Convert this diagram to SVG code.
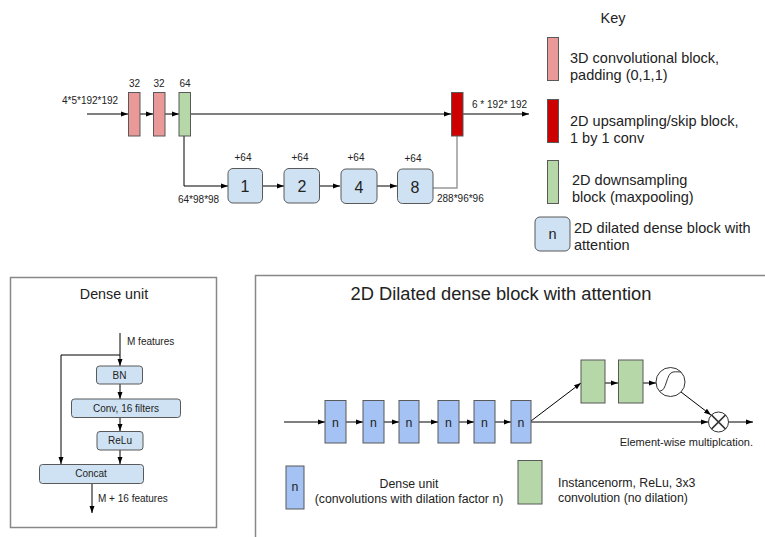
<svg xmlns="http://www.w3.org/2000/svg" width="765" height="537" viewBox="0 0 765 537">
  <defs>
    <marker id="arr" markerWidth="8" markerHeight="8" refX="7" refY="4" orient="auto" markerUnits="userSpaceOnUse">
      <path d="M0,1.5 L7,4 L0,6.5 Z" fill="#000"/>
    </marker>
    <style>
      text { font-family: "Liberation Sans", Arial, sans-serif; fill: #222; }
      .ln { stroke: #000; stroke-width: 1; fill: none; }
      .gl { stroke: #999; stroke-width: 1.5; fill: none; }
      .box { stroke: #595959; stroke-width: 1; }
      .pink { fill: #ea9999; }
      .red { fill: #cc0000; }
      .green { fill: #b6d7a8; }
      .lblue { fill: #cfe2f3; }
      .blue { fill: #a4c2f4; }
      .s10 { font-size: 10px; }
      .s11 { font-size: 11px; }
      .s12 { font-size: 12.3px; }
      .key { font-size: 14.5px; }
      .num { font-size: 16px; }
      .mid { text-anchor: middle; }
      .frame { fill: none; stroke: #888; stroke-width: 1.5; }
    </style>
  </defs>
  <rect width="765" height="537" fill="#fff"/>

  <!-- ===== Top network ===== -->
  <g id="connectors-top">
    <line class="ln" x1="87" y1="114" x2="128" y2="114" marker-end="url(#arr)"/>
    <line class="ln" x1="140" y1="114" x2="153" y2="114" marker-end="url(#arr)"/>
    <line class="ln" x1="165" y1="114" x2="179" y2="114" marker-end="url(#arr)"/>
    <line class="ln" x1="190" y1="114" x2="451" y2="114" marker-end="url(#arr)"/>
    <line class="ln" x1="463" y1="114" x2="529" y2="114" marker-end="url(#arr)"/>
    <polyline class="ln" points="184,136 184,186 228,186" marker-end="url(#arr)"/>
    <line class="ln" x1="262" y1="186" x2="284" y2="186" marker-end="url(#arr)"/>
    <line class="ln" x1="320" y1="186" x2="340" y2="186" marker-end="url(#arr)"/>
    <line class="ln" x1="377" y1="186" x2="397" y2="186" marker-end="url(#arr)"/>
    <polyline class="gl" points="433,188 457,188 457,136"/>
  </g>

  <text class="s10" x="62" y="104">4*5*192*192</text>
  <text class="s10" x="472" y="108">6 * 192* 192</text>
  <text class="s10" x="178" y="203">64*98*98</text>
  <text class="s10" x="437" y="202">288*96*96</text>

  <g id="conv1">
    <rect class="box pink" x="128.5" y="92.5" width="11.5" height="43.5"/>
    <text class="s10 mid" x="134.5" y="87">32</text>
  </g>
  <g id="conv2">
    <rect class="box pink" x="153.5" y="92.5" width="11.5" height="43.5"/>
    <text class="s10 mid" x="159" y="87">32</text>
  </g>
  <g id="down1">
    <rect class="box green" x="179" y="92.5" width="11.5" height="43.5"/>
    <text class="s10 mid" x="185" y="87">64</text>
  </g>
  <g id="up1">
    <rect class="box red" x="451.5" y="92.5" width="11.5" height="43.5"/>
  </g>
  <g id="dd1">
    <rect class="box lblue" x="228" y="168.5" width="34.5" height="34.5" rx="5"/>
    <text class="num mid" x="245" y="192">1</text>
    <text class="s10 mid" x="243" y="161">+64</text>
  </g>
  <g id="dd2">
    <rect class="box lblue" x="284" y="168.5" width="35.5" height="34.5" rx="5"/>
    <text class="num mid" x="302" y="192">2</text>
    <text class="s10 mid" x="300" y="161">+64</text>
  </g>
  <g id="dd4">
    <rect class="box lblue" x="341" y="169" width="36" height="34.5" rx="5"/>
    <text class="num mid" x="359" y="192.5">4</text>
    <text class="s10 mid" x="356" y="161">+64</text>
  </g>
  <g id="dd8">
    <rect class="box lblue" x="397.5" y="169" width="35.5" height="34.5" rx="5"/>
    <text class="num mid" x="415" y="192.5">8</text>
    <text class="s10 mid" x="413" y="162">+64</text>
  </g>

  <!-- ===== Key ===== -->
  <g id="key">
    <text class="key mid" x="613" y="23">Key</text>
    <rect class="box pink" x="547.5" y="37.5" width="11" height="43"/>
    <text class="key" x="570" y="63">3D convolutional block,</text>
    <text class="key" x="570" y="80">padding (0,1,1)</text>
    <rect class="box red" x="547.5" y="99.5" width="11" height="43"/>
    <text class="key" x="570" y="126">2D upsampling/skip block,</text>
    <text class="key" x="570" y="143">1 by 1 conv</text>
    <rect class="box green" x="547.5" y="160.5" width="11" height="43"/>
    <text class="key" x="572" y="185">2D downsampling</text>
    <text class="key" x="572" y="202">block (maxpooling)</text>
    <rect class="box lblue" x="535" y="217" width="35" height="34" rx="5"/>
    <text class="key mid" x="552.5" y="239">n</text>
    <text class="key" x="574" y="233">2D dilated dense block with</text>
    <text class="key" x="574" y="250">attention</text>
  </g>

  <!-- ===== Dense unit panel ===== -->
  <rect class="frame" x="10.5" y="277.5" width="206" height="250"/>
  <text class="mid" x="114" y="299" style="font-size:14.3px">Dense unit</text>
  <g id="connectors-dense">
    <line class="ln" x1="120" y1="333" x2="120" y2="366" marker-end="url(#arr)"/>
    <polyline class="ln" points="120,355 61,355 61,464" marker-end="url(#arr)"/>
    <line class="ln" x1="120" y1="384" x2="120" y2="399" marker-end="url(#arr)"/>
    <line class="ln" x1="120" y1="418" x2="120" y2="431" marker-end="url(#arr)"/>
    <line class="ln" x1="120" y1="450" x2="120" y2="464" marker-end="url(#arr)"/>
    <line class="ln" x1="92" y1="483" x2="92" y2="513" marker-end="url(#arr)"/>
  </g>
  <text class="s10" x="127" y="345">M features</text>
  <text class="s10" x="98" y="502">M + 16 features</text>
  <g id="bn">
    <rect class="box lblue" x="96.5" y="366" width="46" height="18" rx="3"/>
    <text class="s10 mid" x="119.5" y="379">BN</text>
  </g>
  <g id="conv16">
    <rect class="box lblue" x="71.5" y="399" width="109" height="18.5" rx="3"/>
    <text class="s10 mid" x="126" y="412">Conv, 16 filters</text>
  </g>
  <g id="relu">
    <rect class="box lblue" x="97" y="431.5" width="46" height="18.5" rx="3"/>
    <text class="s10 mid" x="120" y="444">ReLu</text>
  </g>
  <g id="concat">
    <rect class="box lblue" x="39.5" y="464.5" width="104" height="19" rx="3"/>
    <text class="s10 mid" x="91" y="477">Concat</text>
  </g>

  <!-- ===== Dilated dense block panel ===== -->
  <path class="frame" d="M255.5,537 V275.5 H766"/>
  <text class="mid" x="501" y="300" style="font-size:18.3px">2D Dilated dense block with attention</text>
  <g id="connectors-dilated">
    <line class="ln" x1="284" y1="422" x2="325" y2="422" marker-end="url(#arr)"/>
    <line class="ln" x1="346" y1="422" x2="363" y2="422" marker-end="url(#arr)"/>
    <line class="ln" x1="384" y1="422" x2="399" y2="422" marker-end="url(#arr)"/>
    <line class="ln" x1="419" y1="422" x2="438" y2="422" marker-end="url(#arr)"/>
    <line class="ln" x1="459" y1="422" x2="474" y2="422" marker-end="url(#arr)"/>
    <line class="ln" x1="495" y1="422" x2="511" y2="422" marker-end="url(#arr)"/>
    <line class="ln" x1="531" y1="422" x2="708" y2="422" marker-end="url(#arr)"/>
    <line class="ln" x1="531" y1="421" x2="581" y2="383" marker-end="url(#arr)"/>
    <line class="ln" x1="605" y1="383" x2="618" y2="383" marker-end="url(#arr)"/>
    <line class="ln" x1="643" y1="383" x2="656" y2="383" marker-end="url(#arr)"/>
    <line class="ln" x1="681" y1="392" x2="711" y2="415" marker-end="url(#arr)"/>
    <line class="ln" x1="729" y1="422" x2="753" y2="422" marker-end="url(#arr)"/>
  </g>
  <g id="du1"><rect class="box blue" x="325" y="400.5" width="21" height="42.5"/><text class="s12 mid" x="335.5" y="426.5">n</text></g>
  <g id="du2"><rect class="box blue" x="363" y="400.5" width="21" height="42.5"/><text class="s12 mid" x="373.5" y="426.5">n</text></g>
  <g id="du3"><rect class="box blue" x="399" y="400.5" width="20" height="42.5"/><text class="s12 mid" x="409" y="426.5">n</text></g>
  <g id="du4"><rect class="box blue" x="438" y="400.5" width="21" height="42.5"/><text class="s12 mid" x="448.5" y="426.5">n</text></g>
  <g id="du5"><rect class="box blue" x="474" y="400.5" width="21" height="42.5"/><text class="s12 mid" x="484.5" y="426.5">n</text></g>
  <g id="du6"><rect class="box blue" x="511" y="400.5" width="20" height="42.5"/><text class="s12 mid" x="521" y="426.5">n</text></g>
  <g id="att1"><rect class="box green" x="581" y="360" width="24" height="43"/></g>
  <g id="att2"><rect class="box green" x="618.5" y="360" width="24.5" height="43"/></g>
  <g id="sigmoid">
    <circle cx="670.5" cy="382" r="14.5" fill="#fff" stroke="#333" stroke-width="1"/>
    <path d="M660,391 C667,391 666,373 673,372 C677,371.5 679,372 681,372" fill="none" stroke="#333" stroke-width="1"/>
  </g>
  <g id="mult">
    <circle cx="718.5" cy="422" r="10" fill="#fff" stroke="#333" stroke-width="1"/>
    <path d="M711.4,414.9 L725.6,429.1 M725.6,414.9 L711.4,429.1" stroke="#333" stroke-width="1.5"/>
  </g>
  <text class="s11" x="753" y="446" text-anchor="end">Element-wise multiplcation.</text>

  <g id="legend-dense">
    <rect class="box blue" x="286" y="466" width="18" height="43"/>
    <text class="s12 mid" x="295" y="491">n</text>
    <text class="s12 mid" x="409" y="488">Dense unit</text>
    <text class="s12 mid" x="409" y="503">(convolutions with dilation factor n)</text>
  </g>
  <g id="legend-att">
    <rect class="box green" x="518" y="460.5" width="24" height="43.5"/>
    <text class="s12" x="558" y="487">Instancenorm, ReLu, 3x3</text>
    <text class="s12" x="558" y="502">convolution (no dilation)</text>
  </g>
</svg>
